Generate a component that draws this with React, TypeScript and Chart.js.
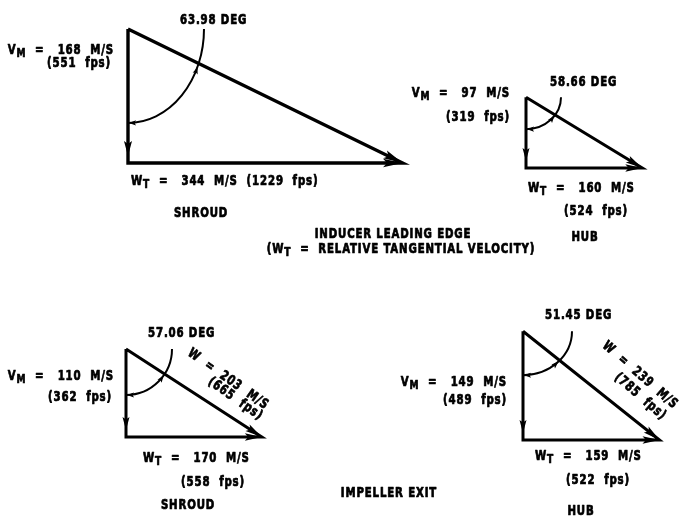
import React, { useEffect, useRef } from "react";
import { Chart, registerables } from "chart.js";

Chart.register(...registerables);

const W = 689;
const H = 525;

// ---------- data ----------
const sections = ["INDUCER LEADING EDGE", "IMPELLER EXIT"];
const noteText = "RELATIVE TANGENTIAL VELOCITY";
const locations = ["SHROUD", "HUB", "SHROUD", "HUB"];
const vmMs = [168, 97, 110, 149];
const vmFps = [551, 319, 362, 489];
const wtMs = [344, 160, 170, 159];
const wtFps = [1229, 524, 558, 522];
const angleDeg = [63.98, 58.66, 57.06, 51.45];
const wMs: (number | null)[] = [null, null, 203, 239];
const wFps: (number | null)[] = [null, null, 665, 785];

// ---------- layout ----------
const origin = [[128, 163], [526, 168], [126, 437], [523, 440]]; // bottom-left corner of each triangle
const pxPerMs = [0.798, 0.73, 0.8, 0.73];
const arcR = [[76, 94], [35, 32], [46, 46], [49, 44]];
const vmPos: [number, number][] = [[114, 50], [510, 93], [114, 376], [507, 382]];
const vmFpsPos: [number, number][] = [[111, 63], [510, 117], [112, 397], [507, 400]];
const wtPos: [number, number][] = [[131, 181], [528, 188], [143, 458], [535, 456]];
const wtFpsPos: ([number, number] | null)[] = [null, [628, 211], [245, 482], [630, 480]];
const locPos: [number, number][] = [[201, 213], [585, 237], [188, 505], [581, 511]];
const anglePos: [number, number][] = [[180, 20], [550, 82], [148, 333], [545, 315]];
const wLabel = [null, null, { x: 189, y: 352, rot: 35, u2: 33, v2: 12 }, { x: 604, y: 344, rot: 41, u2: 30, v2: 16 }];
const sectionPos: [number, number][] = [[393, 234], [389, 493]];
const notePos: [number, number] = [401, 249];

const FAM = "'DejaVu Sans Condensed', 'Liberation Sans Narrow', 'DejaVu Sans', sans-serif";
const FONT = `bold 13.5px ${FAM}`;
const SUBFONT = `bold 12px ${FAM}`;
const SX = 0.84;
const EQ = "  =   ";

type Part = { t: string; sub?: boolean };

function geom(i: number) {
  const [ox, oy] = origin[i];
  const s = pxPerMs[i];
  const V = vmMs[i] * s;
  const L = vmMs[i] * Math.tan((angleDeg[i] * Math.PI) / 180) * s;
  return { ox, oy, top: [ox, oy - V], right: [ox + L, oy], V, L };
}

function drawRich(ctx: CanvasRenderingContext2D, parts: Part[], x: number, y: number, align: "left" | "right" | "center") {
  ctx.save();
  ctx.textBaseline = "middle";
  ctx.textAlign = "left";
  (ctx as any).letterSpacing = "1px";
  let total = 0;
  const widths = parts.map((p) => {
    ctx.font = p.sub ? SUBFONT : FONT;
    const w = ctx.measureText(p.t).width;
    total += w;
    return w;
  });
  const sx = align === "left" ? x : align === "right" ? x - total * SX : x - (total * SX) / 2;
  ctx.translate(sx, y);
  ctx.scale(SX, 1);
  ctx.lineWidth = 0.7;
  ctx.lineJoin = "round";
  let cx = 0;
  parts.forEach((p, k) => {
    ctx.font = p.sub ? SUBFONT : FONT;
    const yy = p.sub ? 4 : 0;
    ctx.fillText(p.t, cx, yy);
    ctx.strokeText(p.t, cx, yy);
    cx += widths[k];
  });
  ctx.restore();
}

function arrow(ctx: CanvasRenderingContext2D, tx: number, ty: number, ang: number, len: number, hw: number) {
  const c = Math.cos(ang), s = Math.sin(ang);
  const bx = tx - c * len, by = ty - s * len;
  ctx.beginPath();
  ctx.moveTo(tx, ty);
  ctx.lineTo(bx - s * hw, by + c * hw);
  ctx.lineTo(bx + c * len * 0.2, by + s * len * 0.2);
  ctx.lineTo(bx + s * hw, by - c * hw);
  ctx.closePath();
  ctx.fill();
}

const diagramPlugin = {
  id: "diagram",
  beforeDraw(chart: any) {
    const ctx = chart.ctx;
    ctx.save();
    ctx.fillStyle = "#fff";
    ctx.fillRect(0, 0, chart.width, chart.height);
    ctx.restore();
  },
  afterDatasetsDraw(chart: any) {
    const ctx: CanvasRenderingContext2D = chart.ctx;
    const xs = chart.scales.x, ys = chart.scales.y;
    const px = (v: number) => xs.getPixelForValue(v);
    const py = (v: number) => ys.getPixelForValue(v);
    ctx.save();
    ctx.fillStyle = "#000";
    ctx.strokeStyle = "#000";
    for (let i = 0; i < 4; i++) {
      const g = geom(i);
      const tX = px(g.top[0]), tY = py(g.top[1]);
      const oX = px(g.ox), oY = py(g.oy);
      const rX = px(g.right[0]), rY = py(g.right[1]);
      const big = i === 0 ? 1.15 : 1;
      // arrowheads on the legs
      arrow(ctx, oX, oY - 7, Math.PI / 2, 13 * big, 3.5 * big);
      arrow(ctx, rX, rY, 0, 17 * big, 3.8 * big);
      arrow(ctx, rX, rY, Math.atan2(rY - tY, rX - tX), 17 * big, 3.8 * big);
      // angle arc + leader
      const [rx, ry] = arcR[i];
      ctx.lineWidth = 2;
      ctx.beginPath();
      ctx.ellipse(tX, tY, rx, ry, 0, 0, Math.PI / 2);
      ctx.stroke();
      arrow(ctx, tX + 1, tY + ry, Math.PI, 7, 2.6);
      const Lx = rX - tX, Vy = oY - tY;
      const k = 1 / Math.sqrt((Lx / rx) ** 2 + (Vy / ry) ** 2);
      const phi = Math.atan2((Vy * k) / ry, (Lx * k) / rx) + 0.04;
      const ax = tX + rx * Math.cos(phi), ay = tY + ry * Math.sin(phi);
      arrow(ctx, ax, ay, Math.atan2(-ry * Math.cos(phi), rx * Math.sin(phi)), 7, 2.6);

      // labels
      drawRich(ctx, [{ t: "V" }, { t: "M", sub: true }, { t: `${EQ}${vmMs[i]}  M/S` }], px(vmPos[i][0]), py(vmPos[i][1]), "right");
      drawRich(ctx, [{ t: `(${vmFps[i]}  fps)` }], px(vmFpsPos[i][0]), py(vmFpsPos[i][1]), "right");
      const fp = wtFpsPos[i];
      if (fp) {
        drawRich(ctx, [{ t: "W" }, { t: "T", sub: true }, { t: `${EQ}${wtMs[i]}  M/S` }], px(wtPos[i][0]), py(wtPos[i][1]), "left");
        drawRich(ctx, [{ t: `(${wtFps[i]}  fps)` }], px(fp[0]), py(fp[1]), "right");
      } else {
        drawRich(ctx, [{ t: "W" }, { t: "T", sub: true }, { t: `${EQ}${wtMs[i]}  M/S  (${wtFps[i]}  fps)` }], px(wtPos[i][0]), py(wtPos[i][1]), "left");
      }
      drawRich(ctx, [{ t: locations[i] }], px(locPos[i][0]), py(locPos[i][1]), "center");
      drawRich(ctx, [{ t: `${angleDeg[i].toFixed(2)} DEG` }], px(anglePos[i][0]), py(anglePos[i][1]), "left");
      const wl = wLabel[i];
      if (wl && wMs[i] != null) {
        ctx.save();
        ctx.translate(px(wl.x), py(wl.y));
        ctx.rotate((wl.rot * Math.PI) / 180);
        drawRich(ctx, [{ t: `W  =  ${wMs[i]}  M/S` }], 0, 0, "left");
        drawRich(ctx, [{ t: `(${wFps[i]}  fps)` }], wl.u2, wl.v2, "left");
        ctx.restore();
      }
    }
    drawRich(ctx, [{ t: sections[0] }], px(sectionPos[0][0]), py(sectionPos[0][1]), "center");
    drawRich(ctx, [{ t: "(W" }, { t: "T", sub: true }, { t: `  =  ${noteText})` }], px(notePos[0]), py(notePos[1]), "center");
    drawRich(ctx, [{ t: sections[1] }], px(sectionPos[1][0]), py(sectionPos[1][1]), "center");
    ctx.restore();
  },
};

export default function App() {
  const ref = useRef<HTMLCanvasElement | null>(null);
  useEffect(() => {
    document.body.style.margin = "0";
    const canvas = ref.current;
    if (!canvas) return;
    const datasets = [0, 1, 2, 3].map((i) => {
      const g = geom(i);
      return {
        label: locations[i],
        showLine: true,
        data: [
          { x: g.top[0], y: g.top[1] },
          { x: g.ox, y: g.oy },
          { x: g.right[0], y: g.right[1] },
          { x: g.top[0], y: g.top[1] },
        ],
        borderColor: "#000",
        backgroundColor: "#000",
        borderWidth: i === 0 ? 3.4 : 3,
        borderJoinStyle: "miter" as const,
        pointRadius: 0,
        tension: 0,
      };
    });
    const chart = new Chart(canvas, {
      type: "scatter",
      data: { datasets },
      options: {
        responsive: false,
        animation: false,
        events: [],
        layout: { padding: 0 },
        plugins: { legend: { display: false }, tooltip: { enabled: false } },
        scales: {
          x: { type: "linear", min: 0, max: W, display: false },
          y: { type: "linear", min: 0, max: H, reverse: true, display: false },
        },
      },
      plugins: [diagramPlugin],
    });
    return () => chart.destroy();
  }, []);
  return (
    <div style={{ width: W, height: H }}>
      <canvas ref={ref} width={W} height={H} style={{ display: "block", width: W, height: H }} />
    </div>
  );
}
